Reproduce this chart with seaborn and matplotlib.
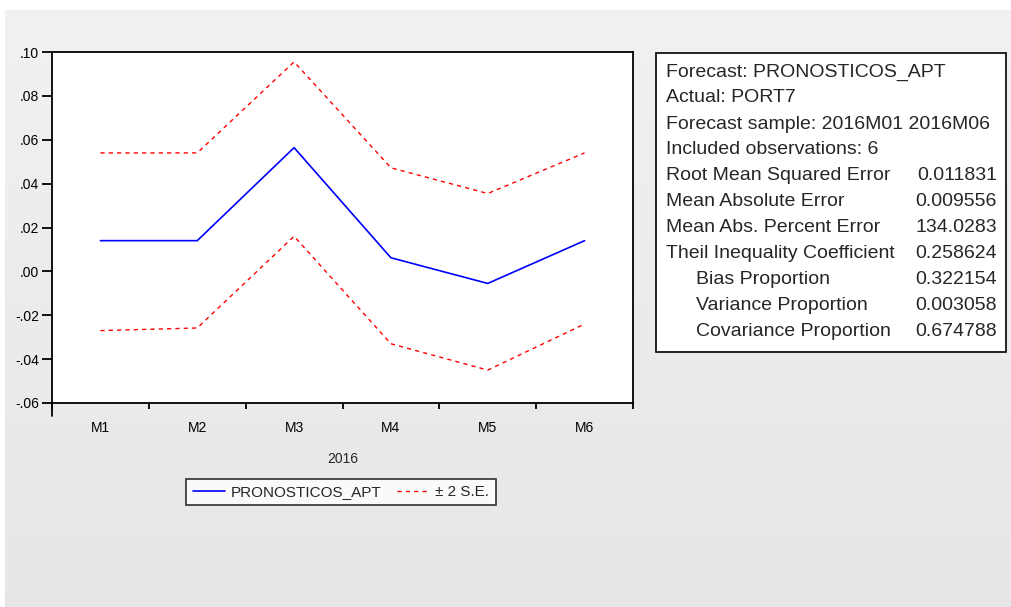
import numpy as np
import pandas as pd
import matplotlib
matplotlib.use("Agg")
import matplotlib.pyplot as plt
import seaborn as sns
from matplotlib.patches import Rectangle
from matplotlib.lines import Line2D

# ---- data ----
months = ["M1", "M2", "M3", "M4", "M5", "M6"]
forecast = [0.0140, 0.0140, 0.0564, 0.0062, -0.0055, 0.0140]
upper = [0.0540, 0.0540, 0.0955, 0.0472, 0.0355, 0.0540]
lower = [-0.0270, -0.0258, 0.0160, -0.0330, -0.0450, -0.0240]
ytick_vals = [-0.06, -0.04, -0.02, 0.00, 0.02, 0.04, 0.06, 0.08, 0.10]
ytick_labels = ["-.06", "-.04", "-.02", ".00", ".02", ".04", ".06", ".08", ".10"]
year_label = "2016"
series_label = "PRONOSTICOS_APT"
band_label = "± 2 S.E."
stats_labels = [
    "Forecast: PRONOSTICOS_APT",
    "Actual: PORT7",
    "Forecast sample: 2016M01 2016M06",
    "Included observations: 6",
    "Root Mean Squared Error",
    "Mean Absolute Error",
    "Mean Abs. Percent Error",
    "Theil Inequality Coefficient",
    "Bias Proportion",
    "Variance Proportion",
    "Covariance Proportion",
]
stats_values = ["", "", "", "", "0.011831", "0.009556", "134.0283",
                "0.258624", "0.322154", "0.003058", "0.674788"]
stats_indent = [False] * 8 + [True] * 3

df = pd.DataFrame({"month": months, "forecast": forecast,
                   "upper": upper, "lower": lower})

sns.set_theme(style="white")
plt.rcParams["font.family"] = ["Liberation Sans", "DejaVu Sans"]

W, H = 1011, 607
fig = plt.figure(figsize=(W / 100, H / 100), dpi=100, facecolor="white")

# gray panel background with soft vertical gradient
bg = fig.add_axes([5 / W, 0, 1 - 5 / W, (H - 10) / H], zorder=-10)
grad = np.linspace(0.945, 0.905, 256).reshape(-1, 1)
bg.imshow(np.dstack([grad, grad, grad]), aspect="auto", extent=[0, 1, 0, 1])
bg.set_axis_off()

ax = fig.add_axes([52 / W, 1 - 403 / H, (633 - 52) / W, (403 - 52) / H])
ax.set_facecolor("white")

sns.lineplot(data=df, x="month", y="forecast", ax=ax, color="#0000ff",
             linewidth=1.2, sort=False, label=series_label)
sns.lineplot(data=df, x="month", y="upper", ax=ax, color="#ff0000",
             linewidth=1.0, sort=False, label=band_label)
sns.lineplot(data=df, x="month", y="lower", ax=ax, color="#ff0000",
             linewidth=1.0, sort=False, label="_nolegend_")
for ln in ax.get_lines()[1:]:
    ln.set_linestyle((0, (3, 3)))

ax.set_xlim(-0.5, len(months) - 0.5)
ax.set_ylim(-0.06, 0.10)
ax.set_yticks(ytick_vals)
ax.set_yticklabels(ytick_labels, fontsize=10)
ax.set_xticks(np.arange(-0.5, len(months), 1.0))
ax.set_xticklabels([""] * (len(months) + 1))
ax.set_xticks(np.arange(len(months)), minor=True)
ax.set_xticklabels(months, minor=True, fontsize=10)
ax.tick_params(axis="y", which="major", direction="out", length=7.2, width=1.3,
               left=True, right=False, pad=2, colors="black")
ax.tick_params(axis="x", which="major", direction="out", length=4.5, width=1.3,
               bottom=True, top=False, colors="black")
ax.tick_params(axis="x", which="minor", length=0, pad=13, colors="black",
               bottom=False, top=False)
for s in ax.spines.values():
    s.set_color("black")
    s.set_linewidth(1.3)
ax.set_xlabel(year_label, fontsize=10, labelpad=12)
ax.set_ylabel("")
ax.get_legend().remove()

# longer first tick on the x axis (EViews style)
fig.add_artist(Line2D([52 / W, 52 / W], [1 - 403 / H, 1 - 416 / H],
                      color="black", linewidth=1.3))

handles, labels = ax.get_legend_handles_labels()
leg = fig.legend(handles, labels, loc="center", ncol=2,
                 bbox_to_anchor=(341 / W, 1 - 492 / H), fontsize=11,
                 frameon=True, fancybox=False, edgecolor="black",
                 handlelength=2.1, columnspacing=1.0, borderpad=0.42,
                 handletextpad=0.4, borderaxespad=0)
leg.get_frame().set_linewidth(1.2)
leg.get_frame().set_facecolor("white")

# statistics box
bx0, bx1, by0, by1 = 656, 1006, 53, 352
fig.patches.append(Rectangle((bx0 / W, 1 - by1 / H), (bx1 - bx0) / W,
                             (by1 - by0) / H, transform=fig.transFigure,
                             facecolor="white", edgecolor="black",
                             linewidth=1.2, zorder=5))
y0, dy = 72, 26.0
for i, (lab, val, ind) in enumerate(zip(stats_labels, stats_values, stats_indent)):
    y = 1 - (y0 + i * dy) / H
    x = (696 if ind else 666) / W
    fig.text(x, y, lab, fontsize=14, va="center", ha="left", zorder=6)
    if val:
        fig.text(997 / W, y, val, fontsize=14, va="center", ha="right", zorder=6)

fig.savefig("out.png", dpi=100, facecolor=fig.get_facecolor())
